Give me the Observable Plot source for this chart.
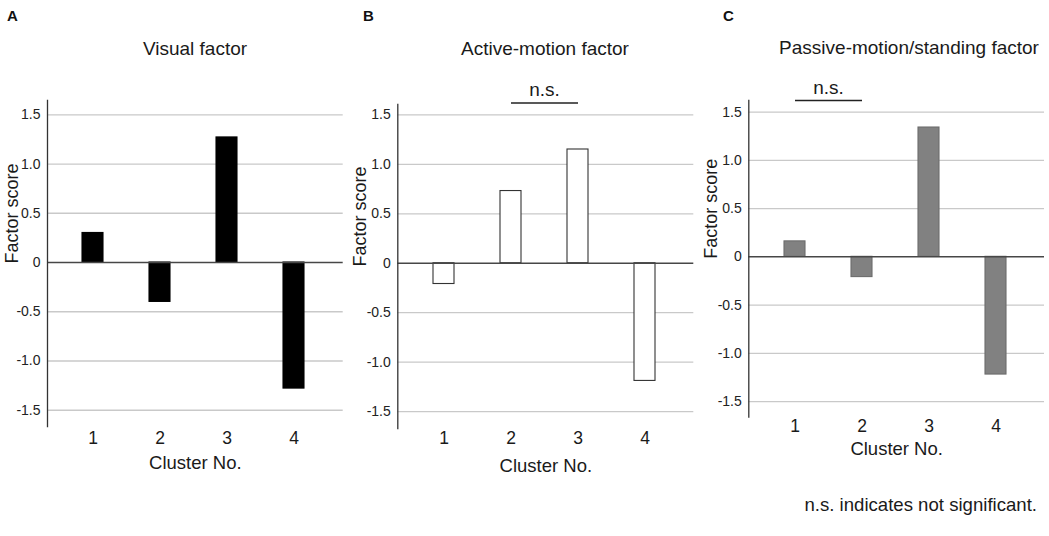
<!DOCTYPE html>
<html>
<head>
<meta charset="utf-8">
<script src="https://cdn.jsdelivr.net/npm/d3@7"></script>
<script src="https://cdn.jsdelivr.net/npm/@observablehq/plot@0.6"></script>
<style>
  html, body { margin: 0; padding: 0; background: #fff; }
  body { font-family: "Liberation Sans", Arial, sans-serif; }
  #wrap { position: relative; width: 1049px; height: 536px; overflow: hidden; background: #fff; }
  .panel { position: absolute; top: 0; }
  .panel svg { background: transparent; }
  .letter { position: absolute; font-weight: bold; font-size: 15px; color: #111; line-height: 1; z-index: 2; }
  .title { position: absolute; font-size: 19px; color: #1a1a1a; white-space: nowrap; line-height: 1; transform: translate(-50%, -50%); z-index: 2; }
  .note { position: absolute; font-size: 18.6px; color: #1a1a1a; white-space: nowrap; line-height: 1; transform: translateY(-50%); z-index: 2; }
</style>
</head>
<body>
<div id="wrap"></div>
<script>
// ---- data ----
const clusters = ["1", "2", "3", "4"];
const visualScores = [0.30, -0.40, 1.27, -1.28];
const activeScores = [-0.21, 0.73, 1.15, -1.19];
const passiveScores = [0.16, -0.21, 1.34, -1.22];
const yTicks = [1.5, 1.0, 0.5, 0, -0.5, -1.0, -1.5];
const yTickLabels = ["1.5", "1.0", "0.5", "0", "-0.5", "-1.0", "-1.5"];
const panelLetters = ["A", "B", "C"];
const panelTitles = ["Visual factor", "Active-motion factor", "Passive-motion/standing factor"];
const nsPairs = [null, ["2", "3"], ["1", "2"]];
const nsLabel = "n.s.";
const xLabel = "Cluster No.";
const yLabel = "Factor score";
const footnote = "n.s. indicates not significant.";

// ---- layout / style ----
const panels = [
  {scores: visualScores, left: 0, width: 350, ml: 47, mr: 7.3, mt: 100, mb: 110, yDomain: [-1.665, 1.645],
   fill: "#000", stroke: "#000", tickDy: 17, labelDy: 42, yLabelDx: -35.5,
   letterPos: [7, 8], titlePos: [195, 48]},
  {scores: activeScores, left: 350, width: 350, ml: 47.3, mr: 6.7, mt: 104, mb: 108, yDomain: [-1.671, 1.605],
   fill: "#fff", stroke: "#333", tickDy: 15, labelDy: 43, yLabelDx: -38,
   letterPos: [363, 8], titlePos: [545, 48]},
  {scores: passiveScores, left: 700, width: 349, ml: 48.3, mr: 5, mt: 100, mb: 119.3, yDomain: [-1.662, 1.62],
   fill: "#818181", stroke: "#6c6c6c", tickDy: 15, labelDy: 38, yLabelDx: -38,
   letterPos: [723, 8], titlePos: [909, 47]}
];
const nsLevel = 1.62;

const wrap = document.getElementById("wrap");

panels.forEach((p, k) => {
  const rows = clusters.map((c, i) => ({cluster: c, score: p.scores[i]}));
  const marks = [
    Plot.ruleY(yTicks.filter(t => t !== 0), {stroke: "#c9c9c9", strokeWidth: 1.3}),
    Plot.barY(rows, {x: "cluster", y: "score", fill: p.fill, stroke: p.stroke, strokeWidth: 1.1}),
    Plot.ruleY([0], {stroke: "#474747", strokeWidth: 1.4}),
    Plot.frame({anchor: "left", stroke: "#333", strokeWidth: 1.3}),
    Plot.axisY({ticks: yTicks, tickFormat: d => yTickLabels[yTicks.indexOf(d)], tickSize: 0, tickPadding: 7,
                fontSize: 14, label: null, color: "#222"}),
    Plot.text(clusters, {x: d => d, frameAnchor: "bottom", dy: p.tickDy, fontSize: 17.5, fill: "#1a1a1a"}),
    Plot.text([xLabel], {frameAnchor: "bottom", dy: p.labelDy, fontSize: 18.5, fill: "#1a1a1a"}),
    Plot.text([yLabel], {frameAnchor: "left", rotate: -90, dx: p.yLabelDx, fontSize: 18, fill: "#1a1a1a"})
  ];
  const pair = nsPairs[k];
  if (pair) {
    marks.push(Plot.link([pair], {x1: d => d[0], x2: d => d[1], y1: () => nsLevel, y2: () => nsLevel,
                                  stroke: "#222", strokeWidth: 1.3}));
    marks.push(Plot.text([pair], {x: d => d[0], y: () => nsLevel, text: () => nsLabel, dx: 33.5, dy: -13,
                                  fontSize: 19, fill: "#1a1a1a"}));
  }
  const chart = Plot.plot({
    width: p.width,
    height: 536,
    marginLeft: p.ml,
    marginRight: p.mr,
    marginTop: p.mt,
    marginBottom: p.mb,
    style: {fontFamily: "'Liberation Sans', Arial, sans-serif", background: "transparent", overflow: "visible"},
    x: {type: "band", domain: clusters, paddingInner: 0.69, paddingOuter: 0.55, align: 0.48, axis: null},
    y: {domain: p.yDomain, axis: null},
    marks
  });
  const holder = document.createElement("div");
  holder.className = "panel";
  holder.style.left = p.left + "px";
  holder.appendChild(chart);
  wrap.appendChild(holder);

  const letter = document.createElement("div");
  letter.className = "letter";
  letter.textContent = panelLetters[k];
  letter.style.left = p.letterPos[0] + "px";
  letter.style.top = p.letterPos[1] + "px";
  wrap.appendChild(letter);

  const title = document.createElement("div");
  title.className = "title";
  title.textContent = panelTitles[k];
  title.style.left = p.titlePos[0] + "px";
  title.style.top = p.titlePos[1] + "px";
  wrap.appendChild(title);
});

const note = document.createElement("div");
note.className = "note";
note.textContent = footnote;
note.style.right = (1049 - 1037) + "px";
note.style.top = "505px";
wrap.appendChild(note);
</script>
</body>
</html>
